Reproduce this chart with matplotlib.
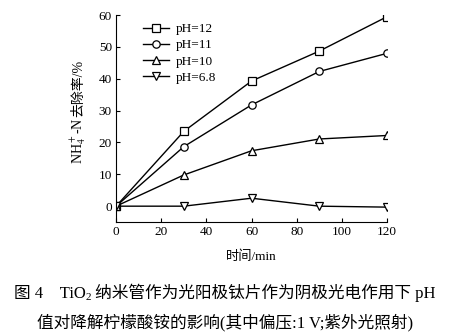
import matplotlib
matplotlib.use("Agg")
import matplotlib.pyplot as plt
from matplotlib.transforms import IdentityTransform

plt.rcParams['font.family'] = ['Liberation Serif', 'Noto Sans CJK SC']
plt.rcParams['mathtext.fontset'] = 'stix'

time = [0, 30, 60, 90, 120]
labels = ['pH=12', 'pH=11', 'pH=10', 'pH=6.8']
markers = ['s', 'o', '^', 'v']
values = [
    [0, 23.5, 39.3, 48.7, 59.5],
    [0, 18.7, 31.8, 42.3, 48.0],
    [0, 9.8, 17.4, 21.1, 22.2],
    [0, 0.0, 2.5, 0.0, -0.3],
]
xticks = [0, 20, 40, 60, 80, 100, 120]
yticks = [0, 10, 20, 30, 40, 50, 60]

W, H = 450, 336
fig = plt.figure(figsize=(4.5, 3.36), dpi=100)
ax = fig.add_axes([0.258, 0.339, 0.602, 0.616])
for lab, m, v in zip(labels, markers, values):
    ax.plot(time, v, color='black', lw=1.0, marker=m, ms=6 if m == 's' else 5.3,
            mfc='white', mec='black', mew=0.9, label=lab)

ax.set_xlim(0, 120)
ax.set_ylim(-5, 60)
ax.set_xticks(xticks)
ax.set_yticks(yticks)
ax.spines['top'].set_visible(False)
ax.spines['right'].set_visible(False)
ax.tick_params(direction='in', length=3, width=0.8, labelsize=9.5, pad=3)
ax.set_xlabel('时间/min', fontsize=9.5, labelpad=9)

ax.legend(loc='upper left', bbox_to_anchor=(0.07, 1.0), frameon=False, fontsize=9.5,
          handlelength=2.0, handletextpad=0.5, labelspacing=0.3, borderaxespad=0.2)

fig.canvas.draw()
renderer = fig.canvas.get_renderer()
ident = IdentityTransform()

# y label in two parts (math + CJK), rotated, along a common baseline
ypart = ['NH$_4^+$-N', '去除率/%']
base_x = 82
objs = []
for s in ypart:
    t = fig.text(0, 0, s, rotation=90, rotation_mode='anchor', ha='left',
                 va='baseline', fontsize=10, transform=ident)
    objs.append(t)
lens = [o.get_window_extent(renderer).height for o in objs]
total = sum(lens)
center_y = H - 112
y0 = center_y - total / 2
for o, L in zip(objs, lens):
    o.set_position((base_x, y0))
    y0 += L

# caption lines built from segments: (text, fontsize, dy)
def caption(y_img, segs):
    objs = []
    for s, fs, dy in segs:
        t = fig.text(0, 0, s, ha='left', va='baseline', fontsize=fs, transform=ident)
        objs.append((t, dy))
    widths = [t.get_window_extent(renderer).width for t, _ in objs]
    x = W / 2 - sum(widths) / 2
    for (t, dy), w in zip(objs, widths):
        t.set_position((x, H - y_img + dy))
        x += w

caption(298, [('图 4　TiO', 12, 0), ('2', 8, -2.5),
              (' 纳米管作为光阳极钛片作为阴极光电作用下 pH', 12, 0)])
caption(327, [('值对降解柠檬酸铵的影响(其中偏压:1 V;紫外光照射)', 12, 0)])

fig.savefig('out.png', dpi=100)
